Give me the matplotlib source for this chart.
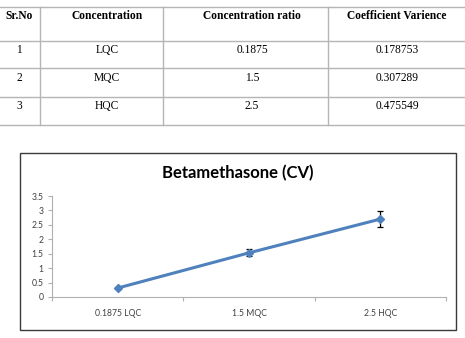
import matplotlib.pyplot as plt
from matplotlib.patches import Rectangle

# table contents
headers = ["Sr.No", "Concentration", "Concentration ratio", "Coefficient Varience"]
sr_no = ["1", "2", "3"]
levels = ["LQC", "MQC", "HQC"]
ratios = ["0.1875", "1.5", "2.5"]
cv_values = ["0.178753", "0.307289", "0.475549"]

# chart data
categories = ["0.1875 LQC", "1.5 MQC", "2.5 HQC"]
cv_plot = [0.31, 1.53, 2.70]
cv_err = [0.03, 0.12, 0.29]

W, H = 465, 338
fig = plt.figure(figsize=(W / 100, H / 100), dpi=100)

# background axes in pixel coords for the table and the chart frame
bg = fig.add_axes([0, 0, 1, 1])
bg.set_xlim(0, W)
bg.set_ylim(H, 0)
bg.axis("off")

grid = "#b5b5b5"
row_lines = [7, 41, 68, 97, 125]
col_lines = [40, 163, 328]
for y in row_lines:
    bg.plot([0, W], [y, y], color=grid, lw=1)
for x in col_lines:
    bg.plot([x, x], [row_lines[0], row_lines[-1]], color=grid, lw=1)

col_x = [19, 107, 252, 397]
serif = "Liberation Serif"
for x, h in zip(col_x, headers):
    bg.text(x, 16, h, ha="center", va="center", family=serif,
            fontweight="bold", fontsize=8.3)
row_y = [50, 78, 106]
for i, y in enumerate(row_y):
    for x, v in zip(col_x, [sr_no[i], levels[i], ratios[i], cv_values[i]]):
        bg.text(x, y, v, ha="center", va="center", family=serif, fontsize=8.3)

# chart frame
bg.add_patch(Rectangle((20, 153), 436, 177, fill=False, ec="#3a3a3a", lw=1))
bg.text(238, 173, "Betamethasone (CV)", ha="center", va="center",
        family="Lato", fontweight="bold", fontsize=12)

# plot area
x0, x1, y_top, y_bot = 52, 446, 196, 297
ax = fig.add_axes([x0 / W, (H - y_bot) / H, (x1 - x0) / W, (y_bot - y_top) / H])
ax.patch.set_alpha(0)
xs = range(len(categories))
ax.errorbar(xs, cv_plot, yerr=cv_err, color="#4f81bd", lw=2.2,
            marker="D", ms=4.5, ecolor="black", elinewidth=0.9, capsize=2,
            capthick=0.9)
ax.set_xlim(-0.5, 2.5)
ax.set_ylim(0, 3.5)
ax.set_yticks([0, 0.5, 1, 1.5, 2, 2.5, 3, 3.5])
ax.set_yticklabels(["0", "0.5", "1", "1.5", "2", "2.5", "3", "3.5"])
ax.set_xticks([-0.5, 0.5, 1.5, 2.5])
ax.set_xticklabels([])
ax.set_xticks(list(xs), minor=True)
ax.set_xticklabels(categories, minor=True)
ax.tick_params(axis="x", which="minor", length=0, pad=9)
ax.tick_params(axis="x", which="major", length=3, color="#b0b0b0", width=0.8)
ax.tick_params(axis="y", length=3, color="#b0b0b0", width=0.8, pad=3)
for lab in ax.get_xticklabels(minor=True) + ax.get_yticklabels():
    lab.set_family("Lato")
    lab.set_fontsize(6.2)
    lab.set_color("#404040")
for s in ["top", "right"]:
    ax.spines[s].set_visible(False)
for s in ["left", "bottom"]:
    ax.spines[s].set_color("#b0b0b0")
    ax.spines[s].set_linewidth(0.8)

fig.savefig("out.png", dpi=100)
